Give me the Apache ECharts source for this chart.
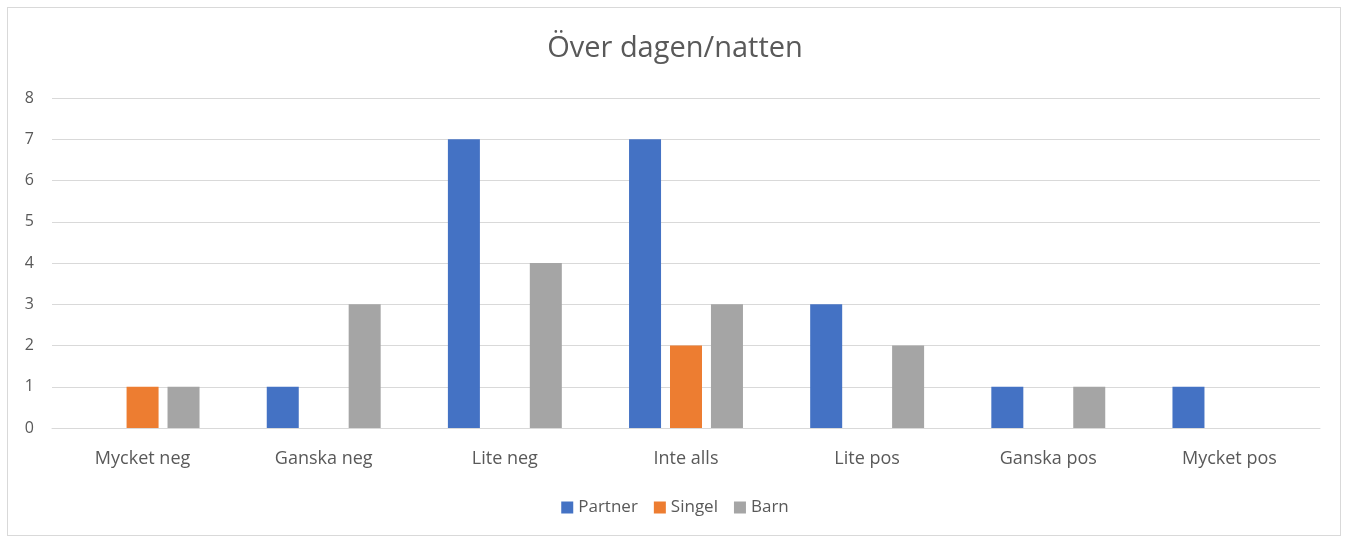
<!DOCTYPE html>
<html>
<head>
<meta charset="utf-8">
<script src="https://cdn.jsdelivr.net/npm/echarts@6/dist/echarts.min.js"></script>
<style>
  html, body { margin: 0; padding: 0; background: #fff; }
  #chart { width: 1350px; height: 538px; }
  #frame { position: absolute; left: 7px; top: 7px; width: 1332px; height: 527px; border: 1px solid #d9d9d9; pointer-events: none; }
</style>
</head>
<body>
<div id="chart"></div>
<div id="frame"></div>
<script>
const categories = ['Mycket neg', 'Ganska neg', 'Lite neg', 'Inte alls', 'Lite pos', 'Ganska pos', 'Mycket pos']
const partner = [0, 1, 7, 7, 3, 1, 1]
const singel = [1, 0, 0, 2, 0, 0, 0]
const barn = [1, 3, 4, 3, 2, 1, 0]

const font = 'Open Sans'
const textColor = '#595959'

const chart = echarts.init(document.getElementById('chart'))

function bar(name, data, color) {
  return {
    name: name,
    type: 'bar',
    data: data,
    barWidth: 32,
    barGap: '28%',
    itemStyle: { color: color },
    animation: false
  }
}

chart.setOption({
  title: {
    text: 'Över dagen/natten',
    left: 'center',
    top: 29,
    textStyle: { fontFamily: font, fontSize: 29, fontWeight: 'normal', color: textColor }
  },
  legend: {
    bottom: 17,
    left: 'center',
    itemWidth: 12,
    itemHeight: 12,
    itemGap: 16,
    icon: 'rect',
    textStyle: { fontFamily: font, fontSize: 17, color: textColor },
    data: ['Partner', 'Singel', 'Barn']
  },
  grid: {
    top: 98,
    bottom: 110,
    left: 52,
    right: 30,
    containLabel: false
  },
  xAxis: {
    type: 'category',
    data: categories,
    axisLine: { lineStyle: { color: '#d9d9d9' } },
    axisTick: { show: false },
    axisLabel: { fontFamily: font, fontSize: 18, color: textColor, margin: 22 }
  },
  yAxis: {
    type: 'value',
    min: 0,
    max: 8,
    interval: 1,
    axisLine: { show: false },
    axisTick: { show: false },
    splitLine: { lineStyle: { color: '#d9d9d9' } },
    axisLabel: { fontFamily: font, fontSize: 16, color: textColor, margin: 18 }
  },
  series: [
    bar('Partner', partner, '#4472c4'),
    bar('Singel', singel, '#ed7d31'),
    bar('Barn', barn, '#a5a5a5')
  ]
})
</script>
</body>
</html>
